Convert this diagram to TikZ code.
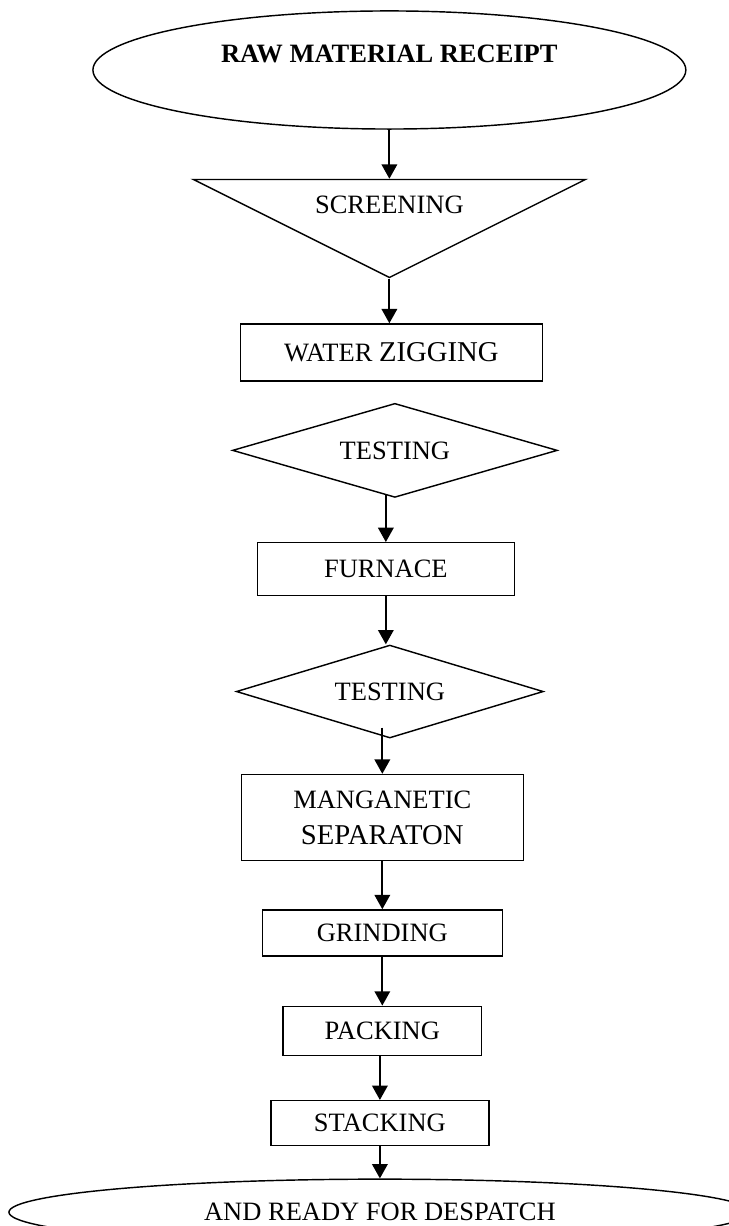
\documentclass[tikz,border=0pt,12pt]{standalone}
\usepackage{fontspec}
\setmainfont{Liberation Serif}
\usetikzlibrary{arrows.meta,positioning,shapes.geometric}
\newcommand{\bumped}[1]{{\fontsize{13}{15}\selectfont #1}}

\begin{document}
\begin{tikzpicture}[
  stage/.style={draw, line width=0.65pt, inner sep=0pt, align=center},
  box/.style={stage, rectangle},
  oval/.style={stage, ellipse},
  check/.style={stage, diamond, shape aspect=3.4},
  sieve/.style={stage, isosceles triangle, isosceles triangle stretches,
                shape border rotate=-90},
  flow/.style={-{Triangle[length=6.5pt,width=7pt]}, line width=0.9pt}
]
\useasboundingbox (-176.4pt,-523.7pt) rectangle (153.8pt,31.7pt);

%% ===== ore in, screening, jigging =====
\node[oval, minimum width=268.6pt, minimum height=53.5pt,
      label={[font=\bfseries, yshift=7.2pt]center:RAW MATERIAL RECEIPT}] (receipt) {};
\node[sieve, minimum width=177.6pt, minimum height=44.4pt,
      below=22.2pt of receipt, anchor=lower side] (screen) {};
\node (screenlbl) at ([yshift=-11.8pt]screen.lower side) {SCREENING};
\node[box, minimum width=136.8pt, minimum height=25.8pt,
      below=19.9pt of screen.apex, xshift=0.9pt] (jig) {WATER \bumped{ZIGGING}};

%% ===== testing and roasting =====
\node[check, minimum width=147.2pt, minimum height=42.6pt,
      below=9.5pt of jig, xshift=1.6pt] (test1) {TESTING};
\node[box, minimum width=116.4pt, minimum height=24pt,
      below=19.9pt of test1, xshift=-4.1pt] (furnace) {FURNACE};
\node[check, minimum width=139.1pt, minimum height=42.1pt,
      below=21.7pt of furnace, xshift=1.8pt] (test2) {TESTING};

%% ===== separation down to despatch =====
\node[box, minimum width=127.7pt, minimum height=39pt,
      below=15.9pt of test2, xshift=-3.4pt] (magsep) {MANGANETIC\\[1.8pt]\bumped{SEPARATON}};
\node[box, minimum width=108.7pt, minimum height=20.8pt, below=21.7pt of magsep] (grind) {GRINDING};
\node[box, minimum width=90.1pt, minimum height=22.2pt, below=22.2pt of grind] (pack) {PACKING};
\node[box, minimum width=98.8pt, minimum height=20.4pt,
      below=19.9pt of pack, xshift=-1.1pt] (stack) {STACKING};
\node[oval, minimum width=336.1pt, minimum height=29.9pt,
      below=14.5pt of stack] (despatch) {AND READY FOR DESPATCH};

%% arrows (none between jigging and the first test)
\draw[flow] (receipt.south -| screen.lower side) -- (screen.lower side);
\draw[flow] (screen.apex) -- (screen.apex |- jig.north);
\draw[flow] ([yshift=1.8pt]test1.south -| furnace.north) -- (furnace.north);
\draw[flow] (furnace.south) -- (furnace.south |- test2.north);
\draw[flow] ([yshift=5pt]test2.south -| magsep.north) -- (magsep.north);
\draw[flow] (magsep.south) -- (magsep.south |- grind.north);
\draw[flow] (grind.south) -- (grind.south |- pack.north);
\draw[flow] (pack.south -| stack.north) -- (stack.north);
\draw[flow] (stack.south) -- (stack.south |- despatch.north);

\end{tikzpicture}
\end{document}
